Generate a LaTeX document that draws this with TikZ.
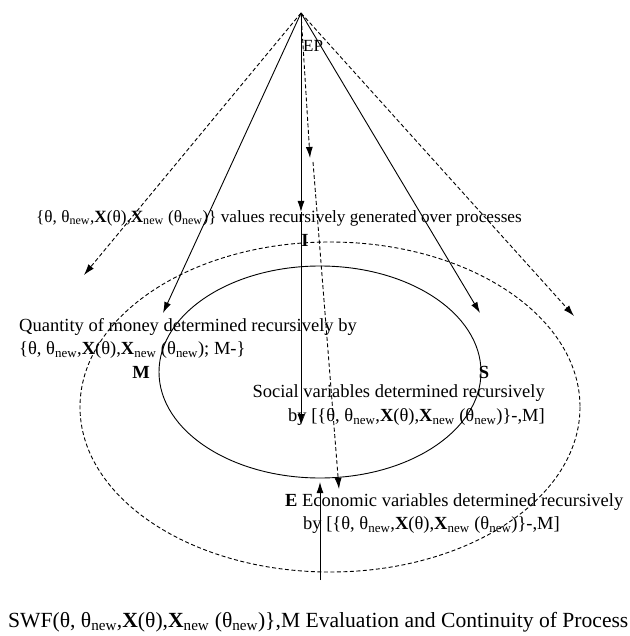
\documentclass[tikz,border=0pt]{standalone}
\usepackage{fontspec}
\setmainfont{Liberation Serif}
\usetikzlibrary{arrows.meta}
\newcommand{\myth}{θ\textsubscript{new}}
\newcommand{\myXn}{\textbf{X}\textsubscript{new}}
\newcommand{\mytuple}{θ, \myth,\textbf{X}(θ),\myXn\ (\myth)}
\begin{document}
\begin{tikzpicture}[x=1pt,y=-1pt,
  >={Latex[length=11pt,width=7pt]},
  ln/.style={line width=0.9pt},
  dsh/.style={line width=0.9pt, dash pattern=on 4pt off 2.5pt},
  lbl/.style={inner sep=0pt, anchor=west, font=\fontsize{18.5}{21}\selectfont},
  lblr/.style={inner sep=0pt, anchor=east, font=\fontsize{18.5}{21}\selectfont},
  big/.style={inner sep=0pt, font=\fontsize{21.6}{24}\selectfont},
  bl/.style={inner sep=0pt, font=\fontsize{18.5}{21}\selectfont\bfseries}]
\useasboundingbox (0,0) rectangle (629,636);
\fill[white] (0,0) rectangle (629,636);

% ellipses
\draw[dsh] (330,407) ellipse [x radius=250, y radius=165];
\draw[ln] (320,372) ellipse [x radius=161, y radius=106];

% apex and targets
\coordinate (ep) at (301,13);
\coordinate (dl) at (84,275);
\coordinate (sl) at (163,313);
\coordinate (sr) at (480,313);
\coordinate (dr) at (574,316);
\coordinate (vmid) at (301,212);
\coordinate (vend) at (301,425);
\coordinate (dmid) at (310,158);
\coordinate (dstart) at (313,162);
\coordinate (dend) at (339,489);
\coordinate (ubot) at (320,580);
\coordinate (utop) at (320,482);

\draw[dsh,->] (ep) -- (dl);
\draw[ln,->] (ep) -- (sl);
\draw[ln,->] (ep) -- (sr);
\draw[dsh,->] (ep) -- (dr);
\draw[ln,->] (ep) -- (vmid);
\draw[ln,->] (vmid) -- (vend);
\draw[dsh,->] (ep) -- (dmid);
\draw[dsh,->] (dstart) -- (dend);
\draw[ln,->] (ubot) -- (utop);

% labels
\node[lbl, font=\fontsize{17}{20}\selectfont] (eplbl) at (303,46) {EP};
\node[lbl, font=\fontsize{17.2}{20}\selectfont] (top) at (36,218) {\{\mytuple\} values recursively generated over processes};
\node[bl] (I) at (305,240) {I};
\node[lbl] (q1) at (19,327) {Quantity of money determined recursively by};
\node[lbl] (q2) at (19,350) {\{\mytuple; M-\}};
\node[bl] (M) at (141,372) {M};
\node[bl] (S) at (484,372) {S};
\node[lblr] (s1) at (545,393) {Social variables determined recursively};
\node[lblr] (s2) at (545,417) {by [\{\mytuple\}-,M]};
\node[lbl] (e1) at (285,502) {\textbf{E} Economic variables determined recursively};
\node[lbl] (e2) at (303,525) {by [\{\mytuple\}-,M]};
\node[big, anchor=west] (swf) at (8,622) {SWF(\mytuple\},M Evaluation and Continuity of Process};
\end{tikzpicture}
\end{document}
